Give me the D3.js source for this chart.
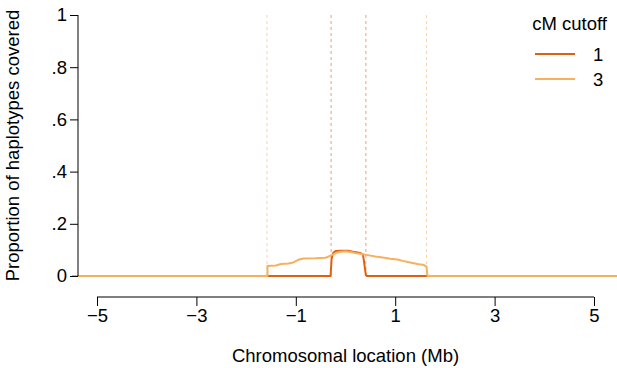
<!DOCTYPE html>
<html>
<head>
<meta charset="utf-8">
<script src="https://cdn.jsdelivr.net/npm/d3@7"></script>
<style>
  body { margin: 0; background: #fff; }
  svg { display: block; font-family: "Liberation Sans", Arial, sans-serif; }
</style>
</head>
<body>
<svg id="chart" width="617" height="368"></svg>
<script>
// ---- Data ----
const seriesNames = ["1", "3"];
const seriesColors = ["#e0600f", "#f7b05e"];

// 1 cM cutoff: [location (Mb), proportion]
const cm1 = [
  [-5.5, 0], [-0.30, 0], [-0.28, 0.065], [-0.25, 0.088], [-0.20, 0.096],
  [-0.10, 0.097], [0.05, 0.097], [0.15, 0.093], [0.30, 0.088], [0.35, 0.083],
  [0.37, 0.06], [0.39, 0.03], [0.41, 0.004], [0.43, 0], [5.6, 0]
];
// 3 cM cutoff
const cm3 = [
  [-5.5, 0], [-1.57, 0], [-1.57, 0.038], [-1.40, 0.040], [-1.30, 0.046],
  [-1.15, 0.048], [-1.05, 0.052], [-0.95, 0.062], [-0.85, 0.067], [-0.60, 0.068],
  [-0.40, 0.070], [-0.30, 0.078], [-0.20, 0.088], [-0.10, 0.093], [0.00, 0.095],
  [0.10, 0.092], [0.20, 0.088], [0.35, 0.083], [0.45, 0.080], [0.60, 0.075],
  [0.75, 0.071], [0.90, 0.066], [1.05, 0.063], [1.15, 0.058], [1.30, 0.052],
  [1.45, 0.046], [1.58, 0.042], [1.63, 0.035], [1.65, 0], [5.6, 0]
];
const seriesData = [cm1, cm3];

// dashed boundary markers (Mb) per series
const bounds1 = [-0.29, 0.41];
const bounds3 = [-1.58, 1.63];
const seriesBounds = [bounds1, bounds3];

const xTicks = [-5, -3, -1, 1, 3, 5];
const yTicks = [0, 0.2, 0.4, 0.6, 0.8, 1];
const yTickLabels = ["0", ".2", ".4", ".6", ".8", "1"];

// ---- Layout ----
const FS = 18.5;
const svg = d3.select("#chart");
const x = d3.scaleLinear().domain([-5, 5]).range([97, 594]);
const y = d3.scaleLinear().domain([0, 1]).range([276, 15]);
const fmtMinus = d => (d < 0 ? "\u2212" + Math.abs(d) : String(d));

// dashed verticals
const vg = svg.append("g");
seriesBounds.forEach((b, i) => {
  b.forEach(v => {
    vg.append("line")
      .attr("x1", x(v)).attr("x2", x(v))
      .attr("y1", y(1)).attr("y2", y(0))
      .attr("stroke", seriesColors[i])
      .attr("stroke-opacity", i === 0 ? 0.6 : 0.55)
      .attr("stroke-width", 1)
      .attr("stroke-dasharray", "3,3");
  });
});

// lines
const line = d3.line().x(d => x(d[0])).y(d => y(d[1]));
seriesData.forEach((s, i) => {
  svg.append("path")
    .datum(s)
    .attr("fill", "none")
    .attr("stroke", seriesColors[i])
    .attr("stroke-width", 2)
    .attr("stroke-linejoin", "round")
    .attr("d", line);
});

// Y axis
const yAxis = d3.axisLeft(y).tickValues(yTicks)
  .tickFormat((d, i) => yTickLabels[i]).tickSize(8).tickPadding(3);
const gy = svg.append("g").attr("transform", "translate(78,0)").call(yAxis);
gy.select(".domain").attr("d", `M0,${y(1)}V${y(0)}`).attr("stroke", "#000");
gy.selectAll("text").attr("font-size", FS).attr("fill", "#000");

// X axis
const xAxis = d3.axisBottom(x).tickValues(xTicks)
  .tickFormat(fmtMinus).tickSize(9).tickPadding(3);
const gx = svg.append("g").attr("transform", "translate(0,297)").call(xAxis);
gx.select(".domain").attr("d", `M${x(-5)},0H${x(5)}`).attr("stroke", "#000");
gx.selectAll("text").attr("font-size", FS).attr("fill", "#000");

// Axis titles
svg.append("text")
  .attr("x", x(0)).attr("y", 362)
  .attr("text-anchor", "middle").attr("font-size", FS)
  .text("Chromosomal location (Mb)");
svg.append("text")
  .attr("transform", `translate(19,${(y(0) + y(1)) / 2}) rotate(-90)`)
  .attr("text-anchor", "middle").attr("font-size", FS)
  .text("Proportion of haplotypes covered");

// Legend
const lg = svg.append("g");
lg.append("text").attr("x", 607).attr("y", 30)
  .attr("text-anchor", "end").attr("font-size", FS).text("cM cutoff");
seriesNames.forEach((n, i) => {
  const yy = 54 + i * 25;
  lg.append("line").attr("x1", 535).attr("x2", 575)
    .attr("y1", yy).attr("y2", yy)
    .attr("stroke", seriesColors[i]).attr("stroke-width", 2);
  lg.append("text").attr("x", 593).attr("y", yy + 6.5)
    .attr("font-size", FS).text(n);
});
</script>
</body>
</html>
